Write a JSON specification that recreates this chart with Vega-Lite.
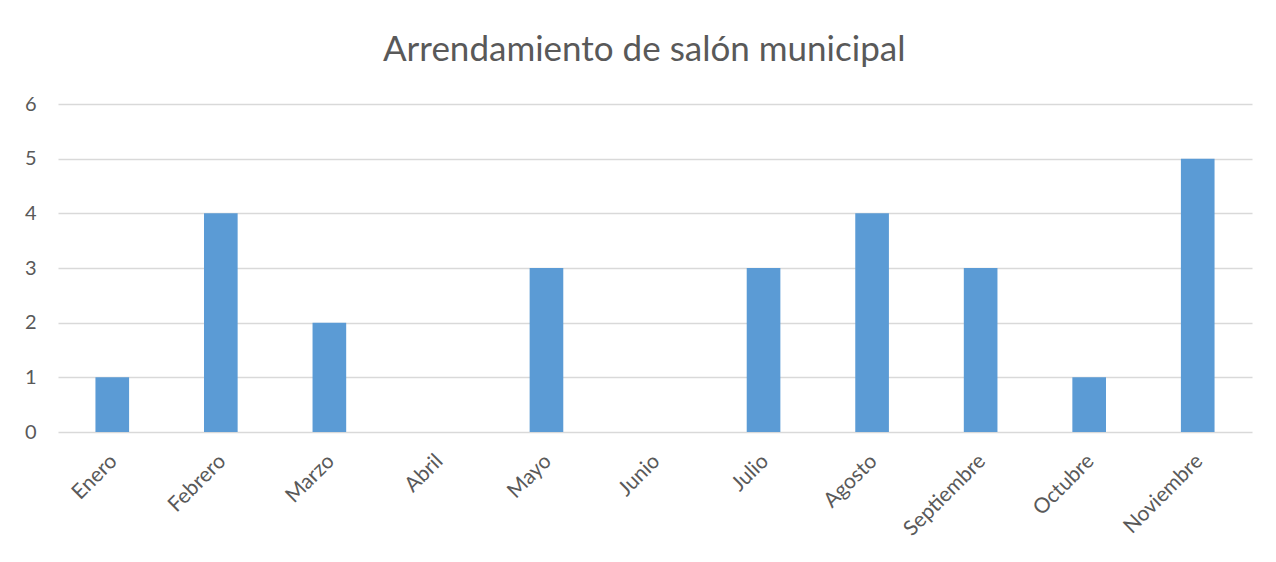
{
  "$schema": "https://vega.github.io/schema/vega-lite/v6.json",
  "autosize": "none",
  "width": 1194,
  "height": 328,
  "padding": {"left": 58, "top": 104, "right": 24, "bottom": 130},
  "background": "white",
  "config": {"view": {"stroke": null}, "font": "Lato"},
  "title": {
    "text": "Arrendamiento de salón municipal",
    "font": "Lato",
    "fontSize": 35,
    "fontWeight": "normal",
    "color": "#595959",
    "anchor": "middle",
    "frame": "bounds",
    "dx": 6,
    "offset": 26
  },
  "data": {
    "values": [
      {"mes": "Enero", "valor": 1},
      {"mes": "Febrero", "valor": 4},
      {"mes": "Marzo", "valor": 2},
      {"mes": "Abril", "valor": 0},
      {"mes": "Mayo", "valor": 3},
      {"mes": "Junio", "valor": 0},
      {"mes": "Julio", "valor": 3},
      {"mes": "Agosto", "valor": 4},
      {"mes": "Septiembre", "valor": 3},
      {"mes": "Octubre", "valor": 1},
      {"mes": "Noviembre", "valor": 5}
    ]
  },
  "mark": {"type": "bar", "color": "#5B9BD5"},
  "encoding": {
    "x": {
      "field": "mes",
      "type": "nominal",
      "sort": null,
      "scale": {"paddingInner": 0.69, "paddingOuter": 0.345},
      "axis": {
        "title": null,
        "labelAngle": -45,
        "labelFontSize": 21,
        "labelColor": "#595959",
        "labelFont": "Lato",
        "ticks": false,
        "domain": false,
        "labelPadding": 18,
        "labelOffset": -6
      }
    },
    "y": {
      "field": "valor",
      "type": "quantitative",
      "scale": {"domain": [0, 6]},
      "axis": {
        "title": null,
        "values": [0, 1, 2, 3, 4, 5, 6],
        "labelOverlap": false,
        "labelFontSize": 20,
        "labelColor": "#595959",
        "labelFont": "Lato",
        "ticks": false,
        "domain": false,
        "labelPadding": 22,
        "gridColor": "#d9d9d9",
        "gridWidth": 1.5
      }
    }
  }
}
